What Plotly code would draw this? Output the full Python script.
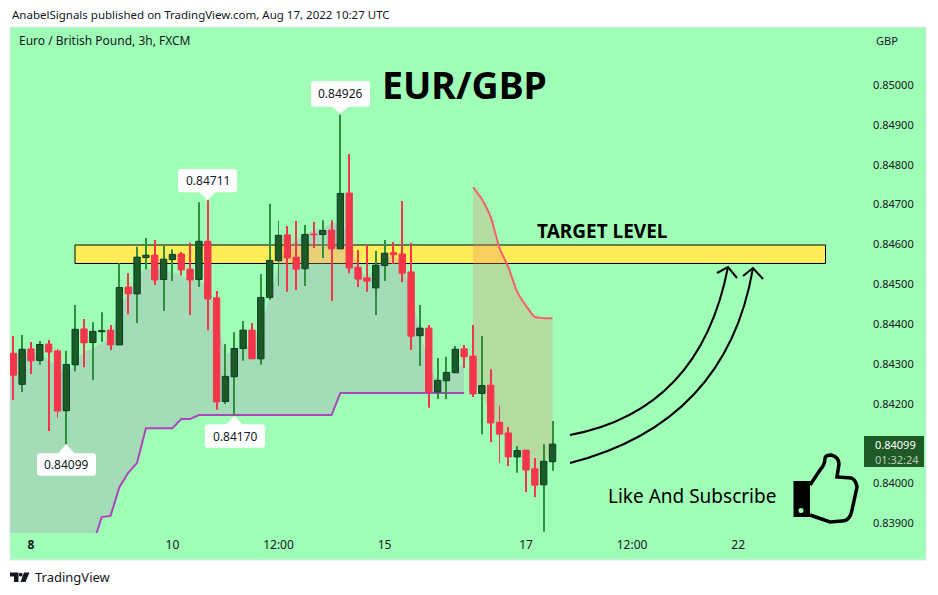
import plotly.graph_objects as go

# ---------- data (prices in 1e-5 units of GBP per EUR) ----------
opens = [84327,84249,84338,84309,84350,84333,84183,84298,84388,84354,84381,84385,84348,84493,84476,84567,84573,84512,84562,84576,84538,84512,84608,84466,84206,84268,
         84339,84385,84313,84467,84559,84624,84568,84539,84626,84625,84636,84589,84729,84543,84516,84491,84547,84579,84576,84531,84371,84390,84230,84258,84278,84338,
         84320,84226,84247,84154,84127,84067,84084,84037,83997,84055]
highs = [84370,84373,84355,84358,84360,84338,84333,84448,84413,84405,84430,84398,84553,84528,84594,84616,84611,84598,84588,84581,84604,84706,84711,84483,84350,84380,
         84408,84403,84526,84702,84659,84646,84659,84649,84656,84661,84661,84926,84827,84586,84599,84584,84611,84606,84709,84604,84448,84398,84315,84318,84345,84348,
         84398,84370,84287,84195,84142,84094,84084,84064,84099,84157]
lows =  [84210,84230,84275,84298,84132,84165,84099,84282,84292,84260,84355,84335,84348,84425,84403,84538,84498,84433,84508,84523,84423,84493,84385,84185,84200,84170,
         84308,84313,84298,84461,84496,84481,84486,84496,84591,84566,84458,84589,84528,84493,84481,84423,84508,84551,84506,84335,84295,84190,84212,84212,84278,84290,
         84217,84124,84104,84052,84044,84027,83979,83966,83879,84032]
closes =[84272,84337,84308,84349,84330,84182,84299,84387,84353,84382,84384,84348,84492,84476,84568,84573,84511,84563,84575,84536,84511,84608,84463,84205,84269,84339,
         84385,84313,84467,84560,84623,84566,84538,84625,84624,84635,84589,84728,84541,84513,84508,84548,84578,84574,84528,84370,84390,84230,84259,84279,84337,84318,
         84225,84246,84152,84124,84067,84083,84034,83996,84056,84099]

band_upper = [84323,84330,84323,84330,84310,84297,84267,84305,84330,84340,84353,84360,84448,84476,84523,84541,84536,84536,84531,84523,84511,84511,84498,84423,84323,84335,
              84348,84340,84410,84461,84553,84594,84611,84624,84636,84641,84654,84654,84629,84543,84518,84543,84568,84573,84553,84478,84385,84292,84260,84265,84285,84303]
band_lower = [83780,83780,83780,83780,83780,83780,83780,83780,83780,83846,83916,83919,83991,84027,84052,84139,84139,84139,84139,84162,84162,84172,84172,84172,84172,84172,
              84172,84172,84172,84172,84172,84172,84172,84172,84172,84172,84172,84227,84227,84227,84227,84227,84227,84227,84227,84227,84227,84227,84227,84227,84227,84227]
proj_start = 52
proj_upper = [84744,84714,84669,84591,84543,84481,84446,84418,84415,84415]
proj_lower = [84260,84222,84177,84139,84109,84079,84052,84027,84042,84092]

time_ticks = [2, 18, 30, 42, 58, 70, 82]
time_labels = ["<b>8</b>", "10", "12:00", "15", "17", "12:00", "22"]
price_ticks = [85000,84900,84800,84700,84600,84500,84400,84300,84200,84000,83900]

target_low, target_high = 0.845522, 0.845986
callouts = [("0.84926", 340.3, 311, 370, 81, 106.7, 114),
            ("0.84711", 207.3, 178, 237, 169, 192.3, 200),
            ("0.84099", 66.3, 37, 96, 453.3, 475.7, 444),
            ("0.84170", 234.3, 205, 265, 424.3, 447.7, 416)]

# ---------- geometry helpers ----------
L, R, T, B = 10, 868, 27, 533
X0, DX = 13.3, 8.84
px = lambda x: (x - L) / (R - L)
py = lambda y: (B - y) / (B - T)
def P(cmd, *pts):
    return cmd + " " + " ".join(f"{px(x):.5f},{py(y):.5f}" for x, y in pts)
def poly(pts, close=True):
    return " ".join(P("M" if i == 0 else "L", p) for i, p in enumerate(pts)) + (" Z" if close else "")

BG = "#a0ffb6"
INK = "#131722"
FONT = "Noto Sans"
RED, GRN, GRN_EDGE, GRN_WICK = "#f5364a", "#1a5c24", "#0c3a30", "#2f8f3e"

price = lambda v: v / 1e5
idx = list(range(len(opens)))
area_x = [-0.4] + list(range(len(band_upper)))
up = [price(v) for v in [band_upper[0]] + band_upper]
lo = [price(v) for v in [band_lower[0]] + band_lower]
proj_x = [proj_start + i for i in range(len(proj_upper))]

fig = go.Figure()

# shaded band and its purple lower edge
fig.add_trace(go.Scatter(x=area_x, y=lo, mode="lines", line=dict(width=0), hoverinfo="skip"))
fig.add_trace(go.Scatter(x=area_x, y=up, mode="lines", line=dict(width=0), fill="tonexty",
                         fillcolor="rgba(180,138,189,0.30)", hoverinfo="skip"))
fig.add_trace(go.Scatter(x=area_x, y=lo, mode="lines", line=dict(color="#ab47bc", width=2), hoverinfo="skip"))

# projection band with red upper edge
fig.add_trace(go.Scatter(x=proj_x, y=[price(v) for v in proj_lower], mode="lines",
                         line=dict(width=0, shape="spline", smoothing=0.6), hoverinfo="skip"))
fig.add_trace(go.Scatter(x=proj_x, y=[price(v) for v in proj_upper], mode="lines",
                         line=dict(color="#f7606a", width=2, shape="spline", smoothing=0.6), fill="tonexty",
                         fillcolor="rgba(230,138,110,0.30)", hoverinfo="skip"))

# wicks (on the overlay subplot so that they sit above the bands)
fig.add_trace(go.Bar(
    x=idx, base=[price(v) for v in lows], y=[price(h - l) for h, l in zip(highs, lows)],
    width=0.113, xaxis="x2", yaxis="y2",
    marker=dict(color=[GRN_WICK if c >= o else RED for o, c in zip(opens, closes)], line=dict(width=0)),
    hoverinfo="skip"))

# bodies
fig.add_trace(go.Bar(
    x=idx,
    base=[price(min(o, c)) for o, c in zip(opens, closes)],
    y=[price(abs(o - c)) for o, c in zip(opens, closes)],
    width=0.72, xaxis="x2", yaxis="y2",
    marker=dict(color=[GRN if c >= o else RED for o, c in zip(opens, closes)],
                line=dict(color=[GRN_EDGE if c >= o else RED for o, c in zip(opens, closes)], width=1)),
    hoverinfo="skip"))

shapes = [
    # panel
    dict(type="rect", xref="paper", yref="paper", x0=px(10), x1=px(926), y0=py(560), y1=py(27),
         fillcolor=BG, line=dict(color="#e0e3eb", width=1), layer="below"),
    # target zone
    dict(type="rect", xref="x", yref="y", x0=(75 - X0) / DX, x1=(825.5 - X0) / DX, y0=target_low, y1=target_high,
         fillcolor="#ffee58", line=dict(color="black", width=1), layer="below"),
]
# callouts: rounded white boxes with a pointer towards the wick
for _, cx, x0, x1, y0, y1, tip in callouts:
    r = 3
    box_above_tip = tip > y1
    seq = [P("M", (x0 + r, y0))]
    if not box_above_tip:
        seq += [P("L", (cx - 8, y0)), P("L", (cx, tip)), P("L", (cx + 8, y0))]
    seq += [P("L", (x1 - r, y0)), P("Q", (x1, y0), (x1, y0 + r)), P("L", (x1, y1 - r)), P("Q", (x1, y1), (x1 - r, y1))]
    if box_above_tip:
        seq += [P("L", (cx + 8, y1)), P("L", (cx, tip)), P("L", (cx - 8, y1))]
    seq += [P("L", (x0 + r, y1)), P("Q", (x0, y1), (x0, y1 - r)), P("L", (x0, y0 + r)), P("Q", (x0, y0), (x0 + r, y0)), "Z"]
    shapes.append(dict(type="path", xref="paper", yref="paper", path=" ".join(seq), fillcolor="white", line=dict(width=0)))

# hand-drawn arrows
black = dict(color="black", width=2)
for start, c1, c2, end, h1, h2 in [((570, 435), (650, 420), (708, 370), (728, 267), (717, 273), (737, 278)),
                                   ((570, 463), (660, 440), (733, 385), (753, 268), (743, 276), (763, 279))]:
    shapes.append(dict(type="path", xref="paper", yref="paper", line=black,
                       path=P("M", start) + " " + P("C", c1, c2, end)))
    shapes.append(dict(type="path", xref="paper", yref="paper", line=black, path=poly([h1, end, h2], close=False)))

# thumb icon
thumb = " ".join([
    P("M", (810, 485)), P("L", (820, 470)), P("Q", (825, 465), (825, 458)),
    P("Q", (826, 455), (831, 455)), P("Q", (839, 457), (839, 464)), P("L", (837, 477)),
    P("L", (851, 478)), P("Q", (856, 480), (857, 487)), P("L", (852, 510)),
    P("Q", (850, 521), (842, 521)), P("L", (830, 522)), P("L", (810, 515))])
shapes.append(dict(type="path", xref="paper", yref="paper", path=thumb, line=dict(color="black", width=3.5)))
shapes.append(dict(type="rect", xref="paper", yref="paper", x0=px(793.5), x1=px(810), y0=py(517), y1=py(481),
                   fillcolor="black", line=dict(width=0)))
shapes.append(dict(type="circle", xref="paper", yref="paper", x0=px(798.5), x1=px(803.5), y0=py(513), y1=py(508),
                   fillcolor=BG, line=dict(width=0)))

# last-price tag
shapes.append(dict(type="rect", xref="paper", yref="paper", x0=px(864), x1=px(924), y0=py(467), y1=py(436),
                   fillcolor="#1e5a26", line=dict(width=0)))

# TradingView logo
shapes.append(dict(type="path", xref="paper", yref="paper", fillcolor=INK, line=dict(width=0),
                   path=poly([(10, 572.5), (18.5, 572.5), (18.5, 582), (14, 582), (14, 576.5), (10, 576.5)])))
shapes.append(dict(type="path", xref="paper", yref="paper", fillcolor=INK, line=dict(width=0),
                   path=poly([(24, 572.5), (29.5, 572.5), (25.5, 582), (20.5, 582)])))
shapes.append(dict(type="circle", xref="paper", yref="paper", fillcolor=INK, line=dict(width=0),
                   x0=px(18.8), x1=px(22.6), y0=py(576.6), y1=py(572.8)))

def text(s, x, y, size, color=INK, anchor="left", bold=False, font=FONT):
    return dict(text=f"<b>{s}</b>" if bold else s, xref="paper", yref="paper", x=px(x), y=py(y),
                xanchor=anchor, yanchor="middle", showarrow=False, align=anchor,
                font=dict(family=font, size=size, color=color))

annotations = [
    text("AnabelSignals published on TradingView.com, Aug 17, 2022 10:27 UTC", 10, 15, 11.5),
    text("Euro / British Pound, 3h, FXCM", 17, 41, 12),
    text("GBP", 874, 41, 11),
    text("EUR/GBP", 464.5, 84, 37.5, "#000000", "center", True),
    text("TARGET LEVEL", 602.5, 231, 19, "#000000", "center", True),
    text("Like And Subscribe", 691.5, 496, 19, "#000000", "center"),
    text("TradingView", 33, 577, 13),
    text("0.84099", 873, 444, 11, "#ffffff"),
    text("01:32:24", 873, 459.5, 11, "#b9cdb9"),
]
for label, cx, x0, x1, y0, y1, tip in callouts:
    annotations.append(text(label, (x0 + x1) / 2, (y0 + y1) / 2, 12, INK, "center"))

ymin = 0.85 - (B - 85) / 39860
ymax = 0.85 + (85 - T) / 39860
xrange_ = [(L - X0) / DX, (R - X0) / DX]

fig.update_layout(
    width=938, height=595,
    margin=dict(l=L, r=938 - R, t=T, b=595 - B, pad=0, autoexpand=False),
    paper_bgcolor="white", plot_bgcolor=BG,
    showlegend=False, barmode="overlay", dragmode=False,
    font=dict(family=FONT, color=INK),
    shapes=shapes, annotations=annotations,
    xaxis=dict(range=xrange_, tickvals=time_ticks, ticktext=time_labels,
               showgrid=False, zeroline=False, showline=False, ticks="", tickfont=dict(size=12, color=INK, family=FONT),
               ticklabelstandoff=3, fixedrange=True),
    yaxis=dict(range=[ymin, ymax], side="right", tickvals=[price(v) for v in price_ticks], tickformat=".5f",
               showgrid=False, zeroline=False, showline=False, ticks="", tickfont=dict(size=11, color=INK, family=FONT),
               ticklabelstandoff=4, fixedrange=True),
    xaxis2=dict(range=xrange_, overlaying="x", visible=False, fixedrange=True),
    yaxis2=dict(range=[ymin, ymax], overlaying="y", visible=False, fixedrange=True),
)

fig.write_html("out.html", config=dict(displayModeBar=False),
               post_script="document.body.style.margin='0';document.body.style.overflow='hidden';")
